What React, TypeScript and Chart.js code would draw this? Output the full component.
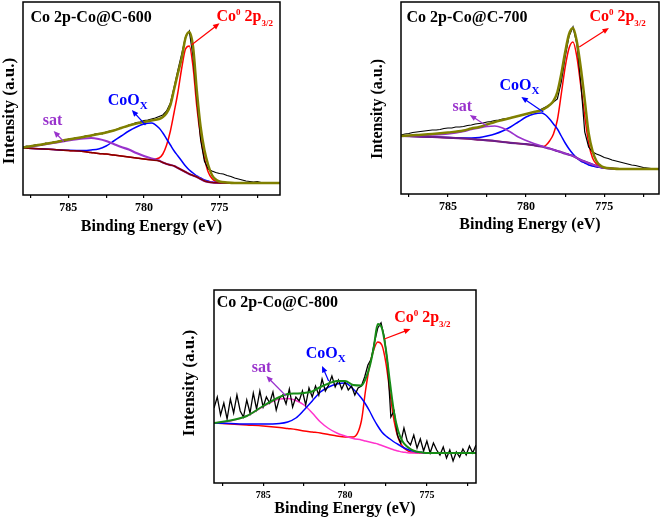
import React, { useEffect, useRef } from 'react';
import { Chart, registerables } from 'chart.js';

Chart.register(...registerables);

const SERIF = '"Liberation Serif", "Times New Roman", Times, serif';

// ---------- shared energy grid for fitted components (eV) ----------
const FIT_E = [788, 787, 786, 785, 784, 783.5, 783, 782.5, 782, 781.5, 781, 780.5, 780, 779.5, 779, 778.75, 778.5, 778.25, 778, 777.75, 777.5, 777.25, 777, 776.75, 776.5, 776.25, 776, 775.75, 775.5, 775.25, 775, 774.5, 774, 773, 772, 771];

// ---------- Panel 1 : Co@C-600 ----------
const P1_BG = [47, 46.3, 45.5, 44.5, 43.5, 42.5, 41.5, 41, 40, 39, 38, 37, 36, 35, 34, 32.5, 31, 30, 29, 27, 25, 23, 21, 19.5, 18, 16, 14, 13, 12.5, 12.2, 12, 12, 12, 12, 12, 12];
const P1_CO0 = [47, 46.3, 45.5, 44.5, 43.5, 42.5, 41.5, 41, 40, 39, 38, 37, 36, 35.5, 37, 41, 50, 64, 83, 103, 127, 146, 149, 128, 88, 58, 37, 23, 16.5, 13.5, 12.5, 12, 12, 12, 12, 12];
const P1_COOX = [47, 46.3, 45.5, 44.8, 44.5, 45, 46, 49, 54, 59, 64, 68, 71, 72, 67, 62, 56, 50, 44, 39, 34, 29, 25, 22, 19, 17, 15, 14, 13, 12.5, 12, 12, 12, 12, 12, 12];
const P1_SAT = [47, 49.5, 52, 54.5, 56.5, 57, 56, 54, 51, 48, 45.5, 42, 39, 36.5, 34.5, 32.5, 31, 30, 29, 27, 25, 23, 21, 19.5, 18, 16, 14, 13, 12.5, 12.2, 12, 12, 12, 12, 12, 12];
const P1_SUM = [47.5, 50, 52.5, 55.5, 58, 59.5, 61, 62.5, 64.5, 67, 69.5, 71.5, 73, 74.5, 76, 78, 82, 90, 106, 122, 137, 157, 163, 148, 104, 68, 45, 30, 20, 15.5, 13.5, 12.5, 12, 12, 12, 12];
const P1_RAW = [48, 49, 48.5, 50, 50.5, 50, 52, 51.5, 53, 53.5, 54.5, 54, 56, 56, 57.5, 57, 58.5, 59.5, 59, 61, 61.5, 61, 63, 64, 64.5, 66, 67.5, 68, 70, 71, 72.5, 73, 74.5, 75, 76, 77, 78.5, 80, 84, 92, 108, 125, 141, 158, 164, 138, 95, 55, 34, 26, 24, 22.5, 21.5, 21, 19.5, 18.5, 17, 16, 15, 14, 13.5, 13, 13.5, 12.5, 12, 12.5, 12, 12, 12];

// ---------- Panel 2 : Co@C-700 ----------
const P2_BG = [58, 57.5, 57, 56.3, 55.5, 55, 54.3, 53.7, 53, 52, 51.2, 50.5, 49.8, 48.8, 47.5, 46.5, 45.5, 44.3, 43, 41.8, 40.5, 39.3, 38, 36, 34, 32.5, 31, 29.5, 28, 27, 26, 25.3, 25, 25, 25, 25];
const P2_CO0 = [58, 57.5, 57, 56.3, 55.5, 55, 54.3, 53.7, 53, 52, 51.2, 50.5, 49.8, 48.8, 47.5, 48.5, 53, 60, 74, 100, 127, 146, 152, 137, 108, 78, 51, 36, 30, 27.5, 26.5, 25.5, 25, 25, 25, 25];
const P2_COOX = [58, 57.5, 57, 56.5, 56, 56, 56.5, 58, 60, 63, 67, 72, 77, 80, 81, 79, 75, 70, 65, 58, 51, 45, 40, 36, 33, 31, 29, 28, 27, 26.5, 26, 25.5, 25, 25, 25, 25];
const P2_SAT = [58, 58.5, 59, 60, 62.5, 64.5, 66, 67.5, 68, 66, 62, 57, 53.5, 50.5, 48, 46.5, 45.5, 44.3, 43, 41.8, 40.5, 39.3, 38, 36, 34, 32.5, 31, 29.5, 28, 27, 26, 25.3, 25, 25, 25, 25];
const P2_SUM = [58, 59, 60, 61.5, 63.5, 65.5, 67, 69.5, 72, 74, 76, 78, 80, 82, 84, 86, 89, 93, 102, 120, 142, 160, 166, 152, 126, 94, 61, 43, 33, 28.5, 26.5, 25.5, 25, 25, 25, 25];
const P2_RAW = [59, 60, 60.5, 61.5, 62, 62.5, 63, 63.5, 64, 64, 64.5, 65.5, 66, 66, 67, 67, 67.5, 68.5, 69, 70, 70.5, 71, 72, 72.5, 73.5, 74, 75, 75.5, 76, 77, 78, 79, 80, 81, 82, 83, 85, 87, 89, 92, 95, 112, 137, 158, 167, 150, 111, 62, 47, 42, 40, 38.5, 36.5, 35.5, 34, 33, 32, 31, 30, 29, 28.5, 27.5, 26.5, 26, 25.5, 25, 25];

// ---------- Panel 3 : Co@C-800 ----------
const P3_CO0 = [60, 59, 58, 57, 55.5, 54.5, 53.5, 52, 51, 50, 48.5, 47, 46, 46, 62, 92, 117, 133, 141, 138, 120, 90, 62, 45, 37, 33, 31, 30.5, 30, 30, 30, 30, 30, 30, 30, 30];
const P3_COOX = [60, 59.5, 59, 59, 59.5, 61, 65, 73, 82, 91, 96, 99, 100, 94, 85, 79, 72, 64, 57, 51, 47, 44, 41, 38.5, 36, 34, 32.5, 31.5, 31, 30.5, 30, 30, 30, 30, 30, 30];
const P3_SAT = [60, 62, 67, 76.5, 84, 84.5, 82.5, 78, 70, 61, 54.5, 50, 47, 44.5, 43, 42, 41, 40, 39, 37.5, 36, 34.5, 33, 32, 31, 30.5, 30, 30, 30, 30, 30, 30, 30, 30, 30, 30];
const P3_SUM = [60, 62.5, 67, 77, 86, 89, 89.5, 90, 91.5, 96, 99.5, 102, 102, 98, 97.5, 104, 116, 135, 159, 155, 133, 100, 70, 52, 42, 37, 34, 32, 31, 30.5, 30, 30, 30, 30, 30, 30];
const P3_RAW = [75, 86, 68, 80, 64, 84, 70, 88, 72, 66, 83, 70, 90, 74, 92, 76, 86, 80, 91, 73, 85, 88, 79, 94, 76, 86, 82, 92, 78, 95, 86, 97, 88, 104, 92, 98, 107, 96, 103, 94, 101, 93, 97, 88, 95, 97, 106, 118, 124, 141, 155, 160, 146, 120, 66, 72, 48, 40, 55, 42, 38, 48, 35, 44, 32, 42, 30, 40, 33, 28, 36, 25, 33, 22, 31, 26, 34, 28, 37, 30, 38];

// raw-spectrum sampling positions (eV), high -> low binding energy
function energyAxis(from: number, to: number, step: number): number[] {
  const out: number[] = [];
  const n = Math.round((from - to) / step);
  for (let i = 0; i <= n; i++) out.push(+(from - i * step).toFixed(2));
  return out;
}
const P1_RAW_E = energyAxis(788, 771, 0.25);
const P2_RAW_E = energyAxis(788, 771.5, 0.25);
const P3_RAW_E = energyAxis(788, 772, 0.2);

const X_TITLE = 'Binding Energy (eV)';
const Y_TITLE = 'Intensity (a.u.)';

const RED = '#ff0000';
const BLUE = '#0000ff';
const PURPLE = '#9932cc';
const MAROON = '#800000';
const OLIVE = '#808000';
const GREEN = '#168c16';
const MAGENTA = '#ff33cc';

type Part = [string, number, number];
interface Label { e: number; v: number; parts: Part[]; color: string }
interface Arrow { e1: number; v1: number; e2: number; v2: number; color: string }

const co0Parts: Part[] = [['Co', 16, 0], ['0', 9, -6], [' 2p', 16, 0], ['3/2', 9, 5]];
const cooxParts: Part[] = [['CoO', 16, 0], ['X', 11, 4]];
const satParts: Part[] = [['sat', 16, 0]];

const pts = (xs: number[], ys: number[]) => xs.map((x, i) => ({ x, y: ys[i] }));

function drawRich(ctx: CanvasRenderingContext2D, x: number, y: number, parts: Part[], color: string) {
  ctx.fillStyle = color;
  ctx.textAlign = 'left';
  ctx.textBaseline = 'alphabetic';
  let cx = x;
  for (const [t, size, dy] of parts) {
    ctx.font = `bold ${size}px ${SERIF}`;
    ctx.fillText(t, cx, y + dy);
    cx += ctx.measureText(t).width;
  }
}

function drawArrow(ctx: CanvasRenderingContext2D, x1: number, y1: number, x2: number, y2: number, color: string) {
  const ang = Math.atan2(y2 - y1, x2 - x1);
  const head = 6.5;
  const half = 2.8;
  const c = Math.cos(ang);
  const s = Math.sin(ang);
  ctx.strokeStyle = color;
  ctx.fillStyle = color;
  ctx.lineWidth = 1.2;
  ctx.beginPath();
  ctx.moveTo(x1, y1);
  ctx.lineTo(x2 - head * 0.8 * c, y2 - head * 0.8 * s);
  ctx.stroke();
  ctx.beginPath();
  ctx.moveTo(x2, y2);
  ctx.lineTo(x2 - head * c + half * s, y2 - head * s - half * c);
  ctx.lineTo(x2 - head * c - half * s, y2 - head * s + half * c);
  ctx.closePath();
  ctx.fill();
}

interface PanelDef {
  left: number; top: number; width: number; height: number;
  pad: { left: number; top: number; right: number; bottom: number };
  yWidth: number; xHeight: number; xTitlePadBottom: number;
  xMin: number; xMax: number; yMax: number; tickSize: number;
  yTitleX: number; yTitleY: number; yTitleSize: number;
  title: string; titleE: number; titleV: number;
  labels: Label[]; arrows: Arrow[];
  datasets: any[];
}

function fit(data: { x: number; y: number }[], color: string, width = 1.5) {
  return { data, borderColor: color, borderWidth: width, pointRadius: 0, fill: false, cubicInterpolationMode: 'monotone' };
}
function raw(data: { x: number; y: number }[], width = 1.2) {
  return { data, borderColor: '#000000', borderWidth: width, pointRadius: 0, fill: false, tension: 0 };
}

const PANELS: PanelDef[] = [
  {
    left: 0, top: 0, width: 300, height: 245,
    pad: { left: 0, top: 2, right: 20, bottom: 0 },
    yWidth: 23, xHeight: 50, xTitlePadBottom: 8.4,
    xMin: 771, xMax: 788, yMax: 193, tickSize: 12,
    yTitleX: 10, yTitleY: 111, yTitleSize: 17,
    title: 'Co 2p-Co@C-600', titleE: 787.5, titleV: 173,
    labels: [
      { e: 775.2, v: 174, parts: co0Parts, color: RED },
      { e: 782.4, v: 90, parts: cooxParts, color: BLUE },
      { e: 786.7, v: 70, parts: satParts, color: PURPLE },
    ],
    arrows: [
      { e1: 776.86, v1: 150, e2: 775.0, v2: 171.7, color: RED },
      { e1: 779.9, v1: 70, e2: 780.8, v2: 85, color: BLUE },
      { e1: 785.3, v1: 53.3, e2: 785.97, v2: 64, color: PURPLE },
    ],
    datasets: [
      fit(pts(FIT_E, P1_SUM), OLIVE, 2.5),
      raw(pts(P1_RAW_E, P1_RAW)),
      fit(pts(FIT_E, P1_BG), MAROON, 1.5),
      fit(pts(FIT_E, P1_SAT), PURPLE, 2.2),
      fit(pts(FIT_E, P1_COOX), BLUE),
      fit(pts(FIT_E, P1_CO0), RED),
    ],
  },
  {
    left: 360, top: 0, width: 301, height: 245,
    pad: { left: 0, top: 2, right: 2, bottom: 0 },
    yWidth: 41, xHeight: 51, xTitlePadBottom: 10.4,
    xMin: 771.5, xMax: 788, yMax: 192, tickSize: 12,
    yTitleX: 17.5, yTitleY: 109, yTitleSize: 16,
    title: 'Co 2p-Co@C-700', titleE: 787.65, titleV: 172,
    labels: [
      { e: 775.95, v: 173, parts: co0Parts, color: RED },
      { e: 781.7, v: 104, parts: cooxParts, color: BLUE },
      { e: 784.7, v: 83, parts: satParts, color: PURPLE },
    ],
    arrows: [
      { e1: 776.6, v1: 147, e2: 774.7, v2: 166, color: RED },
      { e1: 778.9, v1: 82, e2: 780.3, v2: 97, color: BLUE },
      { e1: 782.5, v1: 68, e2: 783.6, v2: 79, color: PURPLE },
    ],
    datasets: [
      fit(pts(FIT_E, P2_SUM), OLIVE, 2.5),
      raw(pts(P2_RAW_E, P2_RAW)),
      fit(pts(FIT_E, P2_SAT), PURPLE, 1.6),
      fit(pts(FIT_E, P2_BG), '#6a1f8a', 2.2),
      fit(pts(FIT_E, P2_COOX), BLUE),
      fit(pts(FIT_E, P2_CO0), RED),
    ],
  },
  {
    left: 175, top: 270, width: 310, height: 249,
    pad: { left: 0, top: 20, right: 9, bottom: 0 },
    yWidth: 39, xHeight: 36, xTitlePadBottom: 0.4,
    xMin: 772, xMax: 788, yMax: 193, tickSize: 10,
    yTitleX: 15, yTitleY: 113, yTitleSize: 17,
    title: 'Co 2p-Co@C-800', titleE: 787.83, titleV: 176,
    labels: [
      { e: 777.0, v: 161, parts: co0Parts, color: RED },
      { e: 782.4, v: 125, parts: cooxParts, color: BLUE },
      { e: 785.7, v: 111, parts: satParts, color: PURPLE },
    ],
    arrows: [
      { e1: 777.6, v1: 144, e2: 776.0, v2: 154, color: RED },
      { e1: 781.0, v1: 102, e2: 781.4, v2: 117, color: BLUE },
      { e1: 783.6, v1: 87, e2: 784.8, v2: 107, color: PURPLE },
    ],
    datasets: [
      fit(pts(FIT_E, P3_SUM), GREEN, 2),
      raw(pts(P3_RAW_E, P3_RAW), 1.3),
      fit(pts(FIT_E, P3_COOX), BLUE),
      fit(pts(FIT_E, P3_SAT), MAGENTA),
      fit(pts(FIT_E, P3_CO0), RED),
    ],
  },
];

function makeDecor(p: PanelDef) {
  return {
    id: 'decor',
    afterDraw(chart: any) {
      const { ctx, chartArea } = chart;
      const xs = chart.scales.x;
      const ys = chart.scales.y;
      ctx.save();
      ctx.strokeStyle = '#000';
      ctx.lineWidth = 1.5;
      ctx.strokeRect(chartArea.left, chartArea.top, chartArea.right - chartArea.left, chartArea.bottom - chartArea.top);
      ctx.save();
      ctx.translate(p.yTitleX, p.yTitleY);
      ctx.rotate(-Math.PI / 2);
      ctx.font = `bold ${p.yTitleSize}px ${SERIF}`;
      ctx.fillStyle = '#000';
      ctx.textAlign = 'center';
      ctx.textBaseline = 'middle';
      ctx.fillText(Y_TITLE, 0, 0);
      ctx.restore();
      drawRich(ctx, xs.getPixelForValue(p.titleE), ys.getPixelForValue(p.titleV), [[p.title, 16, 0]], '#000');
      for (const a of p.arrows) {
        drawArrow(ctx, xs.getPixelForValue(a.e1), ys.getPixelForValue(a.v1), xs.getPixelForValue(a.e2), ys.getPixelForValue(a.v2), a.color);
      }
      for (const l of p.labels) {
        drawRich(ctx, xs.getPixelForValue(l.e), ys.getPixelForValue(l.v), l.parts, l.color);
      }
      ctx.restore();
    },
  };
}

function Panel({ p }: { p: PanelDef }) {
  const ref = useRef<HTMLCanvasElement>(null);
  useEffect(() => {
    if (!ref.current) return;
    const chart = new Chart(ref.current, {
      type: 'line',
      data: { datasets: p.datasets },
      options: {
        animation: false,
        responsive: false,
        events: [],
        layout: { padding: p.pad },
        plugins: { legend: { display: false }, tooltip: { enabled: false } },
        scales: {
          x: {
            type: 'linear',
            reverse: true,
            min: p.xMin,
            max: p.xMax,
            afterFit: (s: any) => { s.height = p.xHeight; },
            ticks: {
              stepSize: 2.5,
              includeBounds: false,
              autoSkip: false,
              maxRotation: 0,
              padding: 3,
              color: '#000',
              font: { family: SERIF, size: p.tickSize, weight: 'bold' },
              callback: (v: any) => (Math.abs(Number(v) % 5) < 1e-6 ? String(v) : ''),
            },
            grid: { display: true, drawOnChartArea: false, drawTicks: true, tickLength: 3, color: '#000', lineWidth: 1.2 },
            border: { display: false },
            title: {
              display: true,
              text: X_TITLE,
              color: '#000',
              font: { family: SERIF, size: 16, weight: 'bold' },
              padding: { top: 0, bottom: p.xTitlePadBottom },
            },
          },
          y: {
            type: 'linear',
            min: 0,
            max: p.yMax,
            afterFit: (s: any) => { s.width = p.yWidth; },
            ticks: { display: false },
            grid: { display: false },
            border: { display: false },
          },
        },
      } as any,
      plugins: [makeDecor(p)],
    });
    return () => chart.destroy();
  }, [p]);
  return (
    <canvas
      ref={ref}
      width={p.width}
      height={p.height}
      style={{ position: 'absolute', left: p.left, top: p.top, width: p.width, height: p.height }}
    />
  );
}

export default function App() {
  return (
    <div style={{ position: 'absolute', left: 0, top: 0, width: 661, height: 519, background: '#ffffff', overflow: 'hidden' }}>
      {PANELS.map((p, i) => <Panel key={i} p={p} />)}
    </div>
  );
}
